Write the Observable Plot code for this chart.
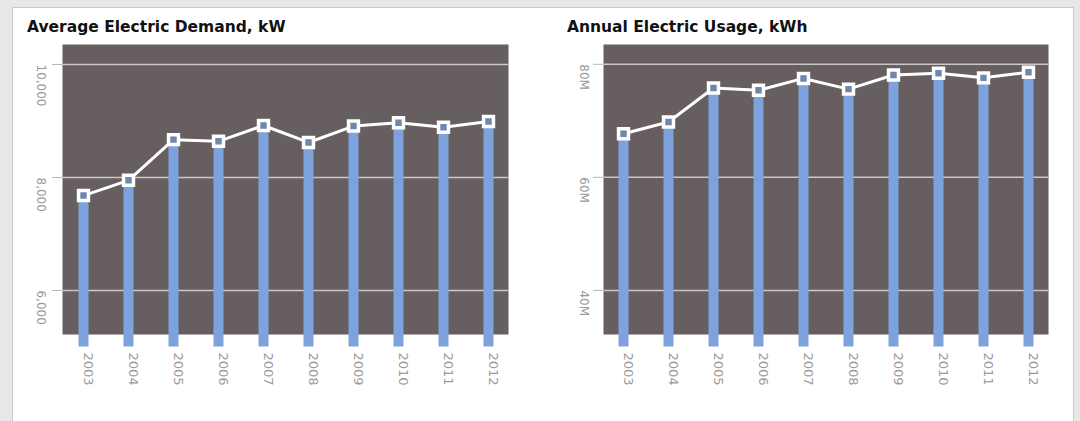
<!DOCTYPE html>
<html>
<head>
<meta charset="utf-8">
<script src="https://cdn.jsdelivr.net/npm/d3@7"></script>
<script src="https://cdn.jsdelivr.net/npm/@observablehq/plot@0.6"></script>
<style>
  html, body { margin: 0; padding: 0; }
  body { width: 1080px; height: 421px; background: #e8e8e8; position: relative; overflow: hidden; font-family: "DejaVu Sans", sans-serif; }
  #panel { position: absolute; left: 12px; top: 7px; width: 1062px; height: 420px; background: #fff; border: 1px solid #c9c9c9; box-sizing: border-box; }
  .title { position: absolute; top: 18px; font: bold 15.5px "DejaVu Sans", sans-serif; color: #111; white-space: nowrap; }
  .chart { position: absolute; top: 40px; }
</style>
</head>
<body>
<div id="panel"></div>
<div class="title" style="left:27px">Average Electric Demand, kW</div>
<div class="title" style="left:567px">Annual Electric Usage, kWh</div>
<div id="left" class="chart" style="left:12px"></div>
<div id="right" class="chart" style="left:553px"></div>
<script>
const years = [2003, 2004, 2005, 2006, 2007, 2008, 2009, 2010, 2011, 2012];
const demandKW = [7680, 7950, 8670, 8640, 8920, 8620, 8910, 8970, 8890, 8990];
const usageMkWh = [67.7, 69.8, 75.8, 75.4, 77.5, 75.6, 78.1, 78.4, 77.6, 78.6];
const demandTicks = [6000, 8000, 10000];
const demandTickLabels = ["6,000", "8,000", "10,000"];
const usageTicks = [40, 60, 80];
const usageTickLabels = ["40M", "60M", "80M"];

const FRAME = "#675e5f";
const BAR = "#7ea3dc";
const GRID = "#cdc6c6";
const LABEL = "#9a9a9a";
const FONT = "'DejaVu Sans', sans-serif";

function chart(values, ticks, tickLabels, domain, base, marginRight, labelDx) {
  const data = years.map((y, i) => ({year: y, value: values[i]}));
  const tickData = ticks.map((t, i) => ({t, label: tickLabels[i]}));
  return Plot.plot({
    width: 520,
    height: 381,
    marginLeft: 50,
    marginRight,
    marginTop: 4,
    marginBottom: 87,
    style: {background: "transparent", fontFamily: FONT, overflow: "visible"},
    x: {type: "point", domain: years, padding: 0.42, axis: null},
    y: {domain, axis: null},
    marks: [
      Plot.frame({fill: FRAME, stroke: null}),
      Plot.ruleY(tickData, {y: "t", stroke: GRID, strokeWidth: 1.5}),
      Plot.axisY({ticks, tickSize: 10, tickFormat: () => "", stroke: "#b5b5b5"}),
      Plot.text(tickData, {y: "t", text: "label", frameAnchor: "left", rotate: 90, textAnchor: "start", dx: labelDx, fill: LABEL, fontSize: 12}),
      Plot.ruleX(data, {x: "year", y1: base, y2: "value", stroke: BAR, strokeWidth: 10}),
      Plot.line(data, {x: "year", y: "value", stroke: "#ffffff", strokeWidth: 3}),
      Plot.dot(data, {x: "year", y: "value", symbol: "square", r: 5.6, fill: "#6f86ae", stroke: "#ffffff", strokeWidth: 3.5}),
      Plot.text(years, {x: d => d, text: d => String(d), frameAnchor: "bottom", rotate: 90, textAnchor: "start", dy: 18, fill: LABEL, fontSize: 13})
    ]
  });
}

document.getElementById("left").append(chart(demandKW, demandTicks, demandTickLabels, [5221, 10354], 5000, 24, -22));
document.getElementById("right").append(chart(usageMkWh, usageTicks, usageTickLabels, [32.2, 83.5], 30, 25, -20));
</script>
</body>
</html>
